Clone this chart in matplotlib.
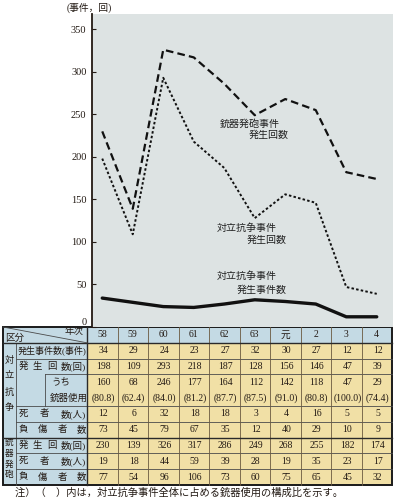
import numpy as np
import matplotlib
matplotlib.use('Agg')
from matplotlib import pyplot as plt
from matplotlib.patches import Rectangle

plt.rcParams['font.family'] = ['Liberation Serif', 'Noto Sans CJK JP']
plt.rcParams['lines.scale_dashes'] = False

# 年次 (昭和58年 ~ 平成4年)
years = ['58', '59', '60', '61', '62', '63', '元', '2', '3', '4']
conflict_incidents = [34, 29, 24, 23, 27, 32, 30, 27, 12, 12]
conflict_times = [198, 109, 293, 218, 187, 128, 156, 146, 47, 39]
conflict_gun_use = [160, 68, 246, 177, 164, 112, 142, 118, 47, 29]
conflict_gun_share = [80.8, 62.4, 84.0, 81.2, 87.7, 87.5, 91.0, 80.8, 100.0, 74.4]
conflict_deaths = [12, 6, 32, 18, 18, 3, 4, 16, 5, 5]
conflict_injured = [73, 45, 79, 67, 35, 12, 40, 29, 10, 9]
gun_times = [230, 139, 326, 317, 286, 249, 268, 255, 182, 174]
gun_deaths = [19, 18, 44, 59, 39, 28, 19, 35, 23, 17]
gun_injured = [77, 54, 96, 106, 73, 60, 75, 65, 45, 32]

# layout in figure pixels
W, H = 397, 504
TAB_L, GRP_R, LAB_R = 3, 16, 87
COL_W = 30.5
TAB_R = LAB_R + len(years) * COL_W
TAB_TOP, ROW_H = 327, 15.8
PLOT_L, PLOT_T = 92, 14

BLUE = '#c4dae4'
YELLOW = '#f1e0a6'
PLOT_BG = '#dde3e3'
INK = '#231a14'
GRID = '#4a4a4a'

fig = plt.figure(figsize=(W / 100, H / 100), dpi=100)
fig.patch.set_facecolor('white')

# ---------------- table ----------------
tab = fig.add_axes([0, 0, 1, 1], zorder=0)
tab.set_xlim(0, W)
tab.set_ylim(H, 0)
tab.axis('off')

n_rows = 10
TAB_B = TAB_TOP + n_rows * ROW_H


def row_top(i):
    return TAB_TOP + i * ROW_H


def row_mid(i):
    return TAB_TOP + (i + 0.5) * ROW_H


def col_mid(j):
    return LAB_R + (j + 0.5) * COL_W


tab.add_patch(Rectangle((TAB_L, TAB_TOP), LAB_R - TAB_L, TAB_B - TAB_TOP,
                        facecolor=BLUE, edgecolor='none'))
tab.add_patch(Rectangle((LAB_R, TAB_TOP), TAB_R - LAB_R, ROW_H,
                        facecolor=BLUE, edgecolor='none'))
tab.add_patch(Rectangle((LAB_R, row_top(1)), TAB_R - LAB_R, TAB_B - row_top(1),
                        facecolor=YELLOW, edgecolor='none'))

# horizontal rules in data area (rows 3/4 share one cell)
for i in range(2, n_rows):
    if i == 4:
        continue
    tab.plot([LAB_R, TAB_R], [row_top(i)] * 2, color=GRID, lw=0.6)
# vertical rules between years
for j in range(1, len(years)):
    x = LAB_R + j * COL_W
    tab.plot([x, x], [TAB_TOP, TAB_B], color='#6b5a40', lw=0.6)

# label column rules
for i in [2, 5, 6, 8, 9]:
    tab.plot([GRP_R, LAB_R], [row_top(i)] * 2, color=GRID, lw=0.6)
tab.plot([45, LAB_R], [row_top(3)] * 2, color=GRID, lw=0.6)
tab.plot([45, 45], [row_top(3), row_top(5)], color=GRID, lw=0.6)
tab.plot([GRP_R, GRP_R], [row_top(1), TAB_B], color=GRID, lw=0.6)
tab.plot([TAB_L, TAB_R], [row_top(7)] * 2, color='#2a2a2a', lw=1.0)
tab.plot([TAB_L, TAB_R], [row_top(1)] * 2, color='#2a2a2a', lw=1.0)
tab.plot([LAB_R, LAB_R], [TAB_TOP, TAB_B], color='#2a2a2a', lw=1.0)
tab.plot([TAB_L, LAB_R], [TAB_TOP, row_top(1)], color=GRID, lw=0.6)
tab.add_patch(Rectangle((TAB_L, TAB_TOP), TAB_R - TAB_L, TAB_B - TAB_TOP,
                        facecolor='none', edgecolor='#1a1a1a', lw=1.4))

LAB_FS = 6.8
NUM_FS = 7
tab.text(5, row_mid(0) + 3, '区分', ha='left', va='center', fontsize=LAB_FS, color=INK)
tab.text(LAB_R - 3, row_mid(0) - 3, '年次', ha='right', va='center', fontsize=LAB_FS, color=INK)
for j, yr in enumerate(years):
    tab.text(col_mid(j), row_mid(0), yr, ha='center', va='center', fontsize=NUM_FS, color=INK)

renderer = fig.canvas.get_renderer()


def spread(parts, y, x0=19, x1=86, size=LAB_FS):
    last = tab.text(x1, y, parts[-1], ha='right', va='center', fontsize=size, color=INK)
    left = last.get_window_extent(renderer).x0
    em = size * 100 / 72
    c0 = x0 + em / 2
    c1 = left + em / 2
    for k, p in enumerate(parts[:-1]):
        cx = c0 + (c1 - c0) * k / (len(parts) - 1)
        tab.text(cx, y, p, ha='center', va='center', fontsize=size, color=INK)


tab.text((GRP_R + LAB_R) / 2 + 1, row_mid(1), '発生事件数(事件)', ha='center', va='center',
         fontsize=6.5, color=INK)
spread(['発', '生', '回', '数(回)'], row_mid(2))
tab.text(51, row_mid(3), 'うち', ha='left', va='center', fontsize=LAB_FS, color=INK)
tab.text(50, row_mid(4), '銃器使用', ha='left', va='center', fontsize=LAB_FS, color=INK)
spread(['死', '者', '数(人)'], row_mid(5))
spread(['負', '傷', '者', '数'], row_mid(6))
spread(['発', '生', '回', '数(回)'], row_mid(7))
spread(['死', '者', '数(人)'], row_mid(8))
spread(['負', '傷', '者', '数'], row_mid(9))

grp_x = (TAB_L + GRP_R) / 2
for k, ch in enumerate('対立抗争'):
    tab.text(grp_x, 360 + k * 16, ch, ha='center', va='center', fontsize=6.6, color=INK)
for k, ch in enumerate('銃器発砲'):
    tab.text(grp_x, 443 + k * 10.7, ch, ha='center', va='center', fontsize=6.2, color=INK)

table_rows = [
    (1, [str(v) for v in conflict_incidents]),
    (2, [str(v) for v in conflict_times]),
    (3, [str(v) for v in conflict_gun_use]),
    (4, ['(%.1f)' % v for v in conflict_gun_share]),
    (5, [str(v) for v in conflict_deaths]),
    (6, [str(v) for v in conflict_injured]),
    (7, [str(v) for v in gun_times]),
    (8, [str(v) for v in gun_deaths]),
    (9, [str(v) for v in gun_injured]),
]
for r, vals in table_rows:
    for j, s in enumerate(vals):
        tab.text(col_mid(j) + 1, row_mid(r), s, ha='center', va='center',
                 fontsize=NUM_FS, color=INK)

# ---------------- chart ----------------
ax = fig.add_axes([PLOT_L / W, 1 - TAB_TOP / H, (TAB_R + 1 - PLOT_L) / W,
                   (TAB_TOP - PLOT_T) / H], zorder=1)
ax.set_facecolor(PLOT_BG)
x = np.arange(len(years))
ax.set_xlim((PLOT_L - LAB_R) / COL_W - 0.5, (TAB_R + 1 - LAB_R) / COL_W - 0.5)
ax.set_ylim(0, 368)

ax.plot(x, gun_times, color='#111111', lw=1.6, dashes=(5.5, 3))
ax.plot(x, conflict_times, color='#111111', lw=1.4, dashes=(1.8, 1.6))
ax.plot(x, conflict_incidents, color='#111111', lw=2.4, solid_capstyle='round')

for s in ['top', 'right', 'bottom']:
    ax.spines[s].set_visible(False)
ax.spines['left'].set_color(INK)
ax.spines['left'].set_linewidth(1.3)
ax.set_xticks([])
ax.set_yticks(np.arange(0, 351, 50))
ax.tick_params(axis='y', direction='in', length=3, width=0.8, colors=INK,
               labelsize=7.5, pad=4)
ax.yaxis.get_major_ticks()[0].label1.set_verticalalignment('bottom')

ANN_FS = 7.2
ax.text(3.86, 239, '銃器発砲事件', ha='left', va='center', fontsize=ANN_FS, color='#222222')
ax.text(6.12, 225, '発生回数', ha='right', va='center', fontsize=ANN_FS, color='#222222')
ax.text(3.76, 116, '対立抗争事件', ha='left', va='center', fontsize=ANN_FS, color='#222222')
ax.text(6.06, 102, '発生回数', ha='right', va='center', fontsize=ANN_FS, color='#222222')
ax.text(3.76, 60, '対立抗争事件', ha='left', va='center', fontsize=ANN_FS, color='#222222')
ax.text(6.06, 43, '発生事件数', ha='right', va='center', fontsize=ANN_FS, color='#222222')

fig.text(67 / W, 1 - 8 / H, '(事件，回)', ha='left', va='center', fontsize=7, color=INK)
fig.text(15 / W, 1 - 493 / H, '注）（　）内は，対立抗争事件全体に占める銃器使用の構成比を示す。',
         ha='left', va='center', fontsize=7.4, color=INK)

fig.savefig('out.png', dpi=100)
